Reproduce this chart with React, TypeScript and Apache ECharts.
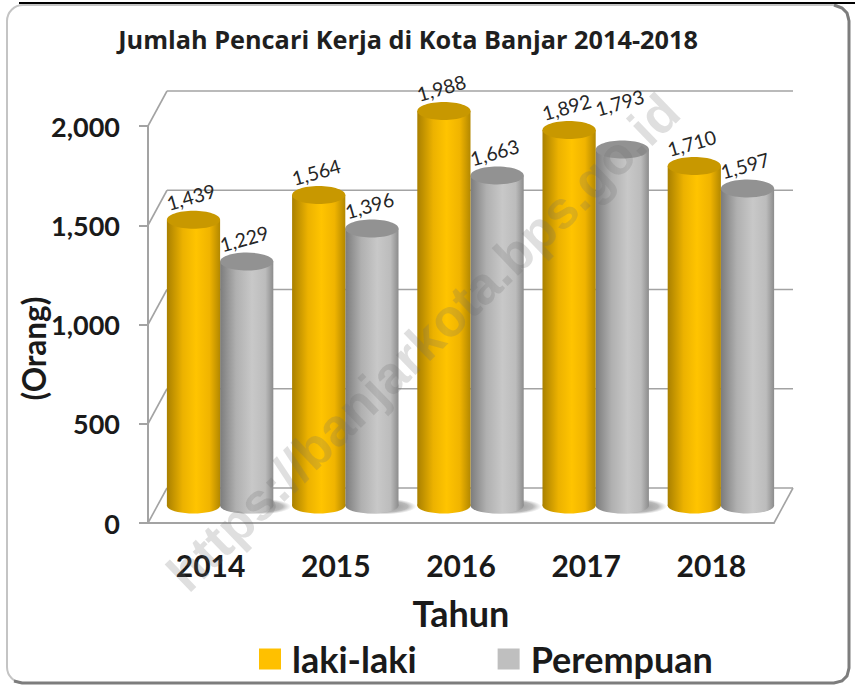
import React, { useEffect, useRef } from "react";
import * as echarts from "echarts";

const years = ["2014", "2015", "2016", "2017", "2018"];
const lakiLaki = [1439, 1564, 1988, 1892, 1710];
const perempuan = [1229, 1396, 1663, 1793, 1597];
const tickValues = [0, 500, 1000, 1500, 2000];
const titleText = "Jumlah Pencari Kerja di Kota Banjar 2014-2018";
const watermark = "https://banjarkota.bps.go.id";

const FONT = "Lato, 'Noto Sans', sans-serif";
const DX = 19;
const DY = -35;
const LINE = "#a3a3a3";

function cylinder(side: number, pal: any, baseZ: number, isGray: boolean) {
  return (params: any, api: any) => {
    const i = api.value(0);
    const v = api.value(1);
    const band = api.size([1, 0])[0];
    const rx = band * 0.2125;
    const top = api.coord([i, v]);
    const base = api.coord([i, 0]);
    const cx = top[0] + DX / 2 + side * rx;
    const yTop = top[1] + DY / 2;
    const yBase = base[1] + DY / 2;
    const grad = new echarts.graphic.LinearGradient(0, 0, 1, 0, pal.body);
    const children: any[] = [];
    if (isGray && i < years.length - 1) {
      children.push({
        type: "ellipse",
        z2: 1,
        shape: { cx: cx + 10, cy: yBase + 1, rx: rx + 8, ry: 8 },
        style: {
          fill: new echarts.graphic.RadialGradient(0.5, 0.5, 0.5, [
            { offset: 0, color: "rgba(80,80,80,0.7)" },
            { offset: 0.75, color: "rgba(100,100,100,0.45)" },
            { offset: 1, color: "rgba(130,130,130,0)" },
          ]),
        },
      });
    }
    children.push(
      { type: "ellipse", z2: baseZ, shape: { cx, cy: yBase, rx, ry: 8 }, style: { fill: grad } },
      { type: "rect", z2: baseZ, shape: { x: cx - rx, y: yTop, width: rx * 2, height: yBase - yTop }, style: { fill: grad } },
      { type: "ellipse", z2: baseZ + 0.5, shape: { cx, cy: yTop, rx, ry: 9 }, style: { fill: pal.top } }
    );
    // the 2017 Perempuan label sits well above its bar in the source
    const lift = isGray && i === 3 ? -47 : -23;
    children.push({
      type: "text",
      z2: 20,
      x: cx - 2.5,
      y: yTop + lift,
      rotation: (16 * Math.PI) / 180,
      style: {
        text: Number(v).toLocaleString("en-US"),
        fill: "#262626",
        font: `400 19.5px ${FONT}`,
        align: "center",
        verticalAlign: "middle",
      },
    });
    return { type: "group", children };
  };
}

const yellow = {
  body: [
    { offset: 0, color: "#a98000" },
    { offset: 0.3, color: "#ecb200" },
    { offset: 0.55, color: "#ffc400" },
    { offset: 0.8, color: "#f0b400" },
    { offset: 1, color: "#b38800" },
  ],
  top: "#c89800",
};
const gray = {
  body: [
    { offset: 0, color: "#7c7c7c" },
    { offset: 0.3, color: "#b0b0b0" },
    { offset: 0.6, color: "#c8c8c8" },
    { offset: 0.85, color: "#bcbcbc" },
    { offset: 1, color: "#8c8c8c" },
  ],
  top: "#929292",
};

function wallItem(params: any, api: any) {
  const v = api.value(0);
  const cs = params.coordSys;
  const x0 = cs.x;
  const x1 = cs.x + cs.width;
  const y = api.coord([0, v])[1];
  const style = { stroke: LINE, lineWidth: 1.6, fill: "none" };
  const children: any[] = [
    { type: "line", shape: { x1: x0, y1: y, x2: x0 + DX, y2: y + DY }, style },
    { type: "line", shape: { x1: x0 + DX, y1: y + DY, x2: x1 + DX, y2: y + DY }, style },
  ];
  if (v === 0) {
    children.push({ type: "line", shape: { x1, y1: y, x2: x1 + DX, y2: y + DY }, style });
  }
  return { type: "group", children };
}

export default function App() {
  const ref = useRef<HTMLDivElement>(null);
  useEffect(() => {
    document.body.style.margin = "0";
    const chart = echarts.init(ref.current!, null, { renderer: "svg" });
    chart.setOption({
      animation: false,
      backgroundColor: "#ffffff",
      title: {
        text: titleText,
        left: 403,
        top: 21,
        textAlign: "center",
        textStyle: { fontFamily: "'Open Sans', sans-serif", fontWeight: "bold", fontSize: 25.3, color: "#1f1f1f" },
      },
      legend: {
        data: ["laki-laki", "Perempuan"],
        left: 254,
        top: 636,
        icon: "rect",
        itemWidth: 22,
        itemHeight: 21,
        itemGap: 81,
        textStyle: { fontFamily: FONT, fontWeight: "bold", fontSize: 36, color: "#1a1a1a", padding: [0, 0, 0, 6] },
      },
      grid: { left: 148, top: 126, width: 626, height: 397 },
      xAxis: {
        type: "category",
        data: years,
        name: "Tahun",
        nameLocation: "middle",
        nameGap: 72,
        nameTextStyle: { fontFamily: FONT, fontWeight: "bold", fontSize: 36, color: "#1a1a1a" },
        axisTick: { show: false },
        axisLine: { lineStyle: { color: LINE, width: 2 } },
        axisLabel: { margin: 27, fontFamily: FONT, fontWeight: "bold", fontSize: 30, color: "#1a1a1a" },
      },
      yAxis: {
        type: "value",
        min: 0,
        max: 2000,
        interval: 500,
        name: "(Orang)",
        nameLocation: "middle",
        nameGap: 98,
        nameMoveOverlap: false,
        nameTextStyle: { fontFamily: FONT, fontWeight: "bold", fontSize: 31.5, color: "#1a1a1a", padding: [0, 48, 0, 0] },
        splitLine: { show: false },
        axisLine: { show: true, lineStyle: { color: LINE, width: 2 } },
        axisTick: { show: true, length: 9, lineStyle: { color: LINE, width: 2 } },
        axisLabel: { margin: 28, fontFamily: FONT, fontWeight: "bold", fontSize: 27, color: "#1a1a1a" },
      },
      series: [
        {
          type: "custom",
          name: "walls",
          z: 1,
          silent: true,
          encode: { y: 0 },
          data: tickValues.map((v) => [v]),
          renderItem: wallItem,
        },
        {
          type: "custom",
          name: "laki-laki",
          z: 2,
          itemStyle: { color: "#ffc000" },
          encode: { x: 0, y: 1 },
          data: lakiLaki.map((v, i) => [i, v]),
          renderItem: cylinder(-1, yellow, 6, false),
        },
        {
          type: "custom",
          name: "Perempuan",
          z: 2,
          itemStyle: { color: "#bfbfbf" },
          encode: { x: 0, y: 1 },
          data: perempuan.map((v, i) => [i, v]),
          renderItem: cylinder(1, gray, 3, true),
        },
      ],
      graphic: [
        {
          type: "rect",
          z: -1,
          silent: true,
          shape: { x: 7, y: 5, width: 842, height: 678, r: 16 },
          style: { fill: "#fff", stroke: "#c4c4c4", lineWidth: 2 },
        },
        {
          type: "polyline",
          z: 0,
          silent: true,
          shape: {
            points: [
              [834, 5], [842, 8], [847, 13], [849, 21], [849, 668], [847, 676], [842, 681], [834, 683], [22, 683], [14, 681],
            ],
          },
          style: { stroke: "#7d7d7d", lineWidth: 3, fill: "none" },
        },
        {
          type: "rect",
          z: 5,
          silent: true,
          shape: { x: 19, y: 2, width: 836, height: 2 },
          style: { fill: "#000" },
        },
        {
          type: "text",
          z: 50,
          silent: true,
          x: 423,
          y: 342,
          rotation: (44 * Math.PI) / 180,
          style: {
            text: watermark,
            fill: "rgba(110,110,110,0.22)",
            font: "bold 52.5px 'Liberation Sans', sans-serif",
            align: "center",
            verticalAlign: "middle",
          },
        },
      ],
    });
    return () => chart.dispose();
  }, []);
  return <div ref={ref} style={{ width: 855, height: 689 }} />;
}
